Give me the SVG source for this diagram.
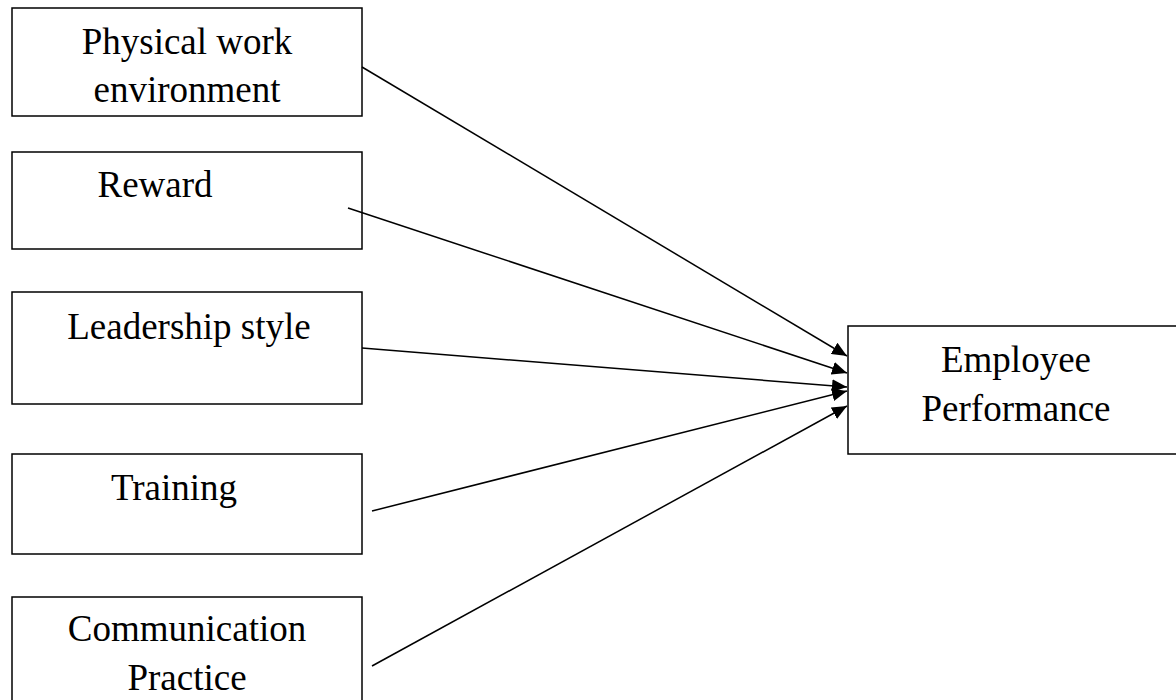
<svg xmlns="http://www.w3.org/2000/svg" width="1176" height="700" viewBox="0 0 1176 700">
<style>
.box{fill:#fff;stroke:#000;stroke-width:1.5}
.lbl{font-family:"Liberation Serif","Times New Roman",serif;font-size:37px;fill:#000;text-anchor:middle}
.edge{stroke:#000;stroke-width:1.5;fill:none;marker-end:url(#ah)}
</style>
<defs>
<marker id="ah" markerUnits="userSpaceOnUse" markerWidth="16" markerHeight="13" refX="15" refY="6.5" orient="auto">
<path d="M0,0 L15,6.5 L0,13 z" fill="#000"/>
</marker>
</defs>
<rect width="1176" height="700" fill="#fff"/>
<g id="n1"><rect class="box" x="12" y="8" width="350" height="108"/><text class="lbl" x="187" y="54">Physical work</text><text class="lbl" x="187" y="102">environment</text></g>
<g id="n2"><rect class="box" x="12" y="152" width="350" height="97"/><text class="lbl" x="155" y="197">Reward</text></g>
<g id="n3"><rect class="box" x="12" y="292" width="350" height="112"/><text class="lbl" x="189" y="339">Leadership style</text></g>
<g id="n4"><rect class="box" x="12" y="454" width="350" height="100"/><text class="lbl" x="174" y="500">Training</text></g>
<g id="n5"><rect class="box" x="12" y="597" width="350" height="120"/><text class="lbl" x="187" y="641">Communication</text><text class="lbl" x="187" y="690">Practice</text></g>
<g id="n6"><rect class="box" x="848" y="326" width="340" height="128"/><text class="lbl" x="1016" y="372">Employee</text><text class="lbl" x="1016" y="421">Performance</text></g>
<g id="edges">
<line class="edge" x1="362" y1="67" x2="847" y2="356"/>
<line class="edge" x1="348" y1="208" x2="847" y2="373"/>
<line class="edge" x1="362" y1="348" x2="847" y2="387"/>
<line class="edge" x1="372" y1="511" x2="847" y2="391"/>
<line class="edge" x1="372" y1="666" x2="847" y2="406"/>
</g>
</svg>
